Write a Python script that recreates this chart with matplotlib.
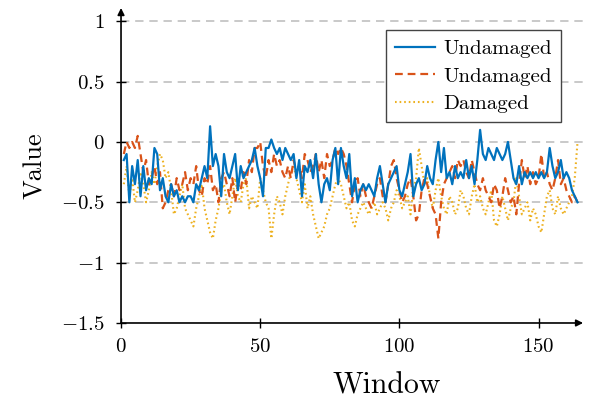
import matplotlib
matplotlib.use("Agg")
import matplotlib.pyplot as plt
from matplotlib.ticker import FuncFormatter

plt.rcParams['font.family'] = ['cmr10', 'DejaVu Serif']
plt.rcParams['mathtext.fontset'] = 'cm'
plt.rcParams['axes.unicode_minus'] = False

window = list(range(1, 165))

undamaged_1 = [
    -0.15, -0.1, -0.5, -0.2, -0.35, -0.15, -0.45, -0.2, -0.4, -0.3,
    -0.35, -0.05, -0.1, -0.4, -0.3, -0.45, -0.5, -0.35, -0.45, -0.4,
    -0.5, -0.45, -0.5, -0.45, -0.45, -0.5, -0.35, -0.4, -0.3, -0.2,
    -0.3, 0.13, -0.2, -0.1, -0.2, -0.45, -0.1, -0.25, -0.3, -0.2,
    -0.1, -0.4, -0.2, -0.3, -0.25, -0.2, -0.15, -0.05, -0.2, -0.3,
    -0.45, -0.05, -0.05, 0.02, -0.05, -0.1, -0.05, -0.15, -0.05, -0.1,
    -0.15, -0.1, -0.3, -0.15, -0.45, -0.2, -0.25, -0.15, -0.3, -0.1,
    -0.35, -0.5, -0.35, -0.3, -0.4, -0.15, -0.05, -0.35, -0.05, -0.2,
    -0.3, -0.1, -0.45, -0.3, -0.5, -0.4, -0.35, -0.4, -0.35, -0.4,
    -0.45, -0.3, -0.2, -0.35, -0.5, -0.35, -0.3, -0.25, -0.2, -0.4,
    -0.45, -0.35, -0.25, -0.1, -0.45, -0.35, -0.3, -0.4, -0.35, -0.2,
    -0.3, -0.35, -0.15, 0.0, -0.25, -0.05, -0.3, -0.25, -0.35, -0.2,
    -0.3, -0.25, -0.3, -0.15, -0.3, -0.2, -0.35, -0.15, 0.1, -0.1,
    -0.15, -0.05, -0.1, -0.15, -0.05, -0.1, -0.15, -0.1, 0.0, -0.15,
    -0.3, -0.35, -0.2, -0.35, -0.25, -0.3, -0.25, -0.3, -0.25, -0.3,
    -0.25, -0.3, -0.25, -0.05, -0.2, -0.3, -0.25, -0.15, -0.3, -0.25,
    -0.3, -0.4, -0.45, -0.5,
]

undamaged_2 = [
    -0.1, 0.0, -0.05, 0.0, -0.05, 0.05, -0.1, -0.25, -0.15, -0.35,
    -0.3, -0.2, -0.35, -0.25, -0.55, -0.5, -0.4, -0.35, -0.45, -0.3,
    -0.4, -0.35, -0.25, -0.4, -0.3, -0.35, -0.2, -0.4, -0.45, -0.3,
    -0.35, -0.2, -0.4, -0.35, -0.5, -0.3, -0.25, -0.35, -0.45, -0.3,
    -0.5, -0.35, -0.4, -0.25, -0.35, -0.15, -0.25, -0.05, -0.05, 0.0,
    -0.2, -0.3, -0.15, -0.25, -0.1, -0.2, -0.15, -0.25, -0.3, -0.2,
    -0.3, -0.15, -0.25, -0.2, -0.3, -0.1, -0.15, -0.25, -0.2, -0.1,
    -0.25, -0.15, -0.3, -0.1, -0.2, -0.15, -0.05, -0.1, -0.05, -0.1,
    -0.2, -0.35, -0.5, -0.35, -0.3, -0.45, -0.35, -0.45, -0.5, -0.55,
    -0.45, -0.35, -0.3, -0.45, -0.5, -0.35, -0.2, -0.15, -0.3, -0.4,
    -0.5, -0.45, -0.35, -0.3, -0.45, -0.65, -0.6, -0.4, -0.3, -0.35,
    -0.45, -0.55, -0.6, -0.8, -0.5, -0.35, -0.3, -0.25, -0.2, -0.3,
    -0.15, -0.2, -0.15, -0.25, -0.3, -0.15, -0.25, -0.35, -0.4, -0.3,
    -0.4, -0.45, -0.5, -0.35, -0.4, -0.55, -0.45, -0.3, -0.4, -0.5,
    -0.45, -0.6, -0.35, -0.15, -0.3, -0.2, -0.35, -0.25, -0.35, -0.3,
    -0.1, -0.3, -0.25, -0.35, -0.4, -0.3, -0.15, -0.35, -0.3, -0.4,
    -0.45, -0.5, -0.45, -0.5,
]

damaged = [
    -0.35, -0.2, -0.45, -0.3, -0.5, -0.4, -0.25, -0.35, -0.5, -0.4,
    -0.25, -0.35, -0.2, -0.1, -0.15, -0.3, -0.25, -0.4, -0.6, -0.55,
    -0.45, -0.35, -0.55, -0.6, -0.65, -0.7, -0.55, -0.45, -0.35, -0.55,
    -0.65, -0.75, -0.8, -0.65, -0.55, -0.4, -0.35, -0.5, -0.6, -0.45,
    -0.3, -0.45, -0.5, -0.35, -0.3, -0.55, -0.45, -0.5, -0.55, -0.3,
    -0.4, -0.5, -0.55, -0.8, -0.6, -0.45, -0.5, -0.6, -0.45, -0.35,
    -0.25, -0.2, -0.3, -0.4, -0.5, -0.35, -0.55, -0.45, -0.6, -0.7,
    -0.8, -0.75, -0.7, -0.6, -0.55, -0.45, -0.35, -0.3, -0.35, -0.45,
    -0.55, -0.5, -0.65, -0.7, -0.6, -0.55, -0.5, -0.55, -0.6, -0.55,
    -0.5, -0.6, -0.55, -0.5, -0.55, -0.65, -0.55, -0.5, -0.4, -0.45,
    -0.55, -0.5, -0.45, -0.6, -0.4, -0.3, -0.05, -0.2, -0.35, -0.3,
    -0.45, -0.55, -0.4, -0.3, -0.45, -0.55, -0.6, -0.45, -0.5, -0.6,
    -0.55, -0.4, -0.45, -0.55, -0.6, -0.45, -0.35, -0.5, -0.45, -0.55,
    -0.6, -0.5, -0.4, -0.65, -0.7, -0.6, -0.45, -0.55, -0.65, -0.55,
    -0.5, -0.3, -0.45, -0.6, -0.55, -0.5, -0.65, -0.55, -0.6, -0.7,
    -0.75, -0.6, -0.45, -0.4, -0.55, -0.6, -0.45, -0.55, -0.6, -0.55,
    -0.5, -0.45, -0.3, 0.0,
]

series_labels = ["Undamaged", "Undamaged", "Damaged"]
y_ticks = [-1.5, -1, -0.5, 0, 0.5, 1]
x_ticks = [0, 50, 100, 150]

fig = plt.figure(figsize=(5.95, 3.99), dpi=100)
ax = fig.add_axes([0.2034, 0.1905, 0.7766, 0.7895])

ax.plot(window, undamaged_1, color='#0072BD', lw=1.6, label=series_labels[0], zorder=3)
ax.plot(window, undamaged_2, color='#D95319', lw=1.6, ls=(0, (3.5, 2.2)), label=series_labels[1], zorder=2)
ax.plot(window, damaged, color='#EDB120', lw=1.5, ls=(0, (0.8, 1.4)), label=series_labels[2], zorder=1)

ax.set_xlim(0, 166)
ax.set_ylim(-1.5, 1.11)
ax.set_yticks(y_ticks)
ax.set_xticks(x_ticks)
fmt = FuncFormatter(lambda v, p: '$%s$' % ('%g' % v))
ax.yaxis.set_major_formatter(fmt)
ax.xaxis.set_major_formatter(fmt)
ax.tick_params(axis='both', direction='inout', length=7, width=1.0, labelsize=15)
ax.tick_params(axis='y', pad=8.5)
ax.tick_params(axis='x', pad=7)

for yv in [-1, -0.5, 0, 0.5, 1]:
    ax.axhline(yv, color='#c0c0c0', lw=1.2, ls=(0, (5, 3.5)), zorder=0)

for s in ['top', 'right', 'left', 'bottom']:
    ax.spines[s].set_visible(False)
ax.annotate('', xy=(1.0, 0), xytext=(0, 0), xycoords='axes fraction',
            arrowprops=dict(arrowstyle='-|>', color='black', lw=1.2, mutation_scale=10,
                            shrinkA=0, shrinkB=0), annotation_clip=False)
ax.annotate('', xy=(0, 1.0), xytext=(0, 0), xycoords='axes fraction',
            arrowprops=dict(arrowstyle='-|>', color='black', lw=1.2, mutation_scale=10,
                            shrinkA=0, shrinkB=0), annotation_clip=False)

ax.set_xlabel('Window', fontsize=21.5, labelpad=6)
ax.xaxis.set_label_coords(0.574, -0.155)
ax.set_ylabel('Value', fontsize=19, labelpad=10)

leg = ax.legend(loc='upper right', bbox_to_anchor=(0.952, 0.93), borderaxespad=0,
                fontsize=15, frameon=True, fancybox=False, edgecolor='#444444',
                framealpha=1, handlelength=1.9, borderpad=0.45, labelspacing=0.43,
                handletextpad=0.4)
leg.get_frame().set_linewidth(1.0)

fig.savefig('out.png', dpi=100)
